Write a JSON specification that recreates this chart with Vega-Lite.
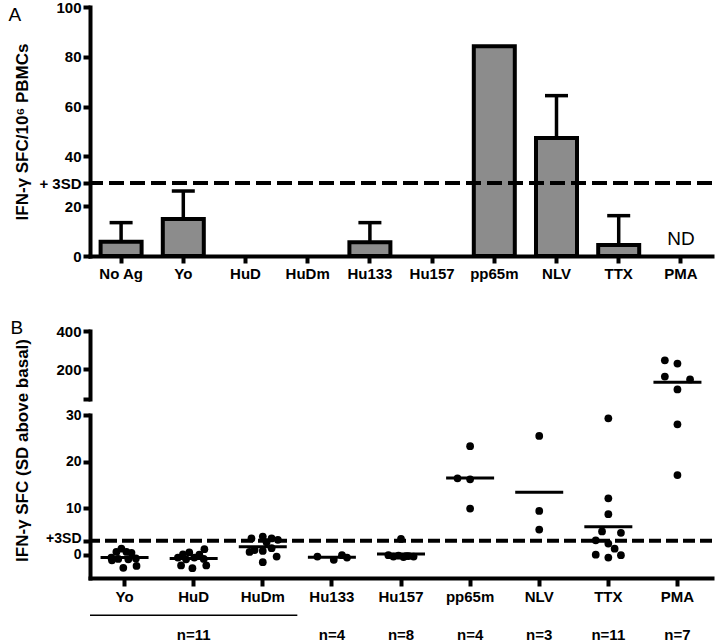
{
  "$schema": "https://vega.github.io/schema/vega-lite/v6.json",
  "padding": {"left": 8, "top": 0, "right": 5, "bottom": 0},
  "background": "white",
  "config": {
    "font": "Liberation Sans",
    "view": {"stroke": null},
    "axis": {
      "domain": true, "domainColor": "black", "domainWidth": 4, "domainOpacity": 1, "domainCap": "square", "tickColor": "black", "tickWidth": 4, "tickSize": 7,
      "labelFont": "Liberation Sans", "labelFontSize": 15, "labelFontWeight": "bold", "labelColor": "black",
      "titleFont": "Liberation Sans", "titleFontSize": 17, "titleFontWeight": "bold", "titleColor": "black",
      "grid": false, "labelOverlap": false, "labelBound": false, "labelFlush": false, "zindex": 1
    }
  },
  "datasets": {
    "panelA": [
      {"antigen": "No Ag", "mean": 5.7, "upper": 13.4, "note": null},
      {"antigen": "Yo", "mean": 14.9, "upper": 26.1, "note": null},
      {"antigen": "HuD", "mean": 0, "upper": null, "note": null},
      {"antigen": "HuDm", "mean": 0, "upper": null, "note": null},
      {"antigen": "Hu133", "mean": 5.5, "upper": 13.4, "note": null},
      {"antigen": "Hu157", "mean": 0, "upper": null, "note": null},
      {"antigen": "pp65m", "mean": 84.2, "upper": null, "note": null},
      {"antigen": "NLV", "mean": 47.4, "upper": 64.4, "note": null},
      {"antigen": "TTX", "mean": 4.4, "upper": 16.2, "note": null},
      {"antigen": "PMA", "mean": null, "upper": null, "note": "ND"}
    ],
    "panelB": [
      {"antigen": "Yo", "slot": -0.5, "sd": 1.3},
      {"antigen": "Yo", "slot": -1.3, "sd": 0.6},
      {"antigen": "Yo", "slot": 0.3, "sd": 0.6},
      {"antigen": "Yo", "slot": 1.1, "sd": 0.4},
      {"antigen": "Yo", "slot": -2.1, "sd": -0.6},
      {"antigen": "Yo", "slot": -1.0, "sd": -0.9},
      {"antigen": "Yo", "slot": 0.6, "sd": -1.0},
      {"antigen": "Yo", "slot": 1.8, "sd": -0.8},
      {"antigen": "Yo", "slot": -2.0, "sd": -1.2},
      {"antigen": "Yo", "slot": -0.2, "sd": -2.8},
      {"antigen": "Yo", "slot": 1.9, "sd": -2.4},
      {"antigen": "HuD", "slot": -2.5, "sd": -0.6},
      {"antigen": "HuD", "slot": -1.7, "sd": 0.1},
      {"antigen": "HuD", "slot": -0.7, "sd": 0.5},
      {"antigen": "HuD", "slot": 0.1, "sd": -0.6},
      {"antigen": "HuD", "slot": 0.9, "sd": 0.0},
      {"antigen": "HuD", "slot": 1.7, "sd": 1.2},
      {"antigen": "HuD", "slot": 1.6, "sd": -0.9},
      {"antigen": "HuD", "slot": -2.0, "sd": -2.3},
      {"antigen": "HuD", "slot": -0.2, "sd": -2.9},
      {"antigen": "HuD", "slot": 2.0, "sd": -2.3},
      {"antigen": "HuD", "slot": -1.2, "sd": -1.0},
      {"antigen": "HuDm", "slot": -1.8, "sd": 3.5},
      {"antigen": "HuDm", "slot": 0, "sd": 3.9},
      {"antigen": "HuDm", "slot": 1.4, "sd": 3.5},
      {"antigen": "HuDm", "slot": 2.4, "sd": 3.2},
      {"antigen": "HuDm", "slot": 0.6, "sd": 2.7},
      {"antigen": "HuDm", "slot": -2.1, "sd": 0.6},
      {"antigen": "HuDm", "slot": 0, "sd": 0.8},
      {"antigen": "HuDm", "slot": 1.4, "sd": 1.4},
      {"antigen": "HuDm", "slot": 2.2, "sd": -0.4},
      {"antigen": "HuDm", "slot": 0, "sd": -1.6},
      {"antigen": "HuDm", "slot": -1.3, "sd": 1.0},
      {"antigen": "Hu133", "slot": -2.3, "sd": -0.4},
      {"antigen": "Hu133", "slot": 0.3, "sd": -1.1},
      {"antigen": "Hu133", "slot": 1.6, "sd": -0.1},
      {"antigen": "Hu133", "slot": 2.4, "sd": -0.6},
      {"antigen": "Hu157", "slot": 0, "sd": 3.4},
      {"antigen": "Hu157", "slot": -2, "sd": -0.1},
      {"antigen": "Hu157", "slot": -1.2, "sd": -0.4},
      {"antigen": "Hu157", "slot": -0.4, "sd": -0.2},
      {"antigen": "Hu157", "slot": 0.4, "sd": -0.5},
      {"antigen": "Hu157", "slot": 1.2, "sd": -0.3},
      {"antigen": "Hu157", "slot": 2, "sd": -0.4},
      {"antigen": "Hu157", "slot": 0.8, "sd": -0.3},
      {"antigen": "pp65m", "slot": 0, "sd": 23.3},
      {"antigen": "pp65m", "slot": -2, "sd": 16.4},
      {"antigen": "pp65m", "slot": 0, "sd": 16.2},
      {"antigen": "pp65m", "slot": 0, "sd": 9.9},
      {"antigen": "NLV", "slot": 0, "sd": 25.5},
      {"antigen": "NLV", "slot": 0, "sd": 9.4},
      {"antigen": "NLV", "slot": 0, "sd": 5.4},
      {"antigen": "TTX", "slot": 0, "sd": 29.3},
      {"antigen": "TTX", "slot": 0, "sd": 12.1},
      {"antigen": "TTX", "slot": 0, "sd": 8.7},
      {"antigen": "TTX", "slot": -1, "sd": 5.0},
      {"antigen": "TTX", "slot": 2, "sd": 4.7},
      {"antigen": "TTX", "slot": -2, "sd": 3.1},
      {"antigen": "TTX", "slot": 0, "sd": 2.4},
      {"antigen": "TTX", "slot": 1, "sd": 1.3},
      {"antigen": "TTX", "slot": -2, "sd": 0.0},
      {"antigen": "TTX", "slot": 2, "sd": -0.1},
      {"antigen": "TTX", "slot": 0, "sd": -0.6},
      {"antigen": "PMA", "slot": -2, "sd": 247},
      {"antigen": "PMA", "slot": 0, "sd": 230},
      {"antigen": "PMA", "slot": -2, "sd": 162},
      {"antigen": "PMA", "slot": 2, "sd": 147},
      {"antigen": "PMA", "slot": 0, "sd": 95},
      {"antigen": "PMA", "slot": 0, "sd": 28},
      {"antigen": "PMA", "slot": 0, "sd": 17.1}
    ]
  },
  "spacing": 75,
  "bounds": "flush",
  "vconcat": [
    {
      "width": 622,
      "height": 249,
      "resolve": {"axis": {"x": "independent"}},
      "layer": [
        {
          "data": {"name": "panelA"},
          "transform": [{"filter": "datum.mean > 0"}],
          "mark": {"type": "bar", "fill": "#8c8c8c", "stroke": "black", "strokeWidth": 4, "width": 41},
          "encoding": {
            "x": {"field": "antigen", "type": "nominal",
              "scale": {"type": "band", "domain": ["No Ag", "Yo", "HuD", "HuDm", "Hu133", "Hu157", "pp65m", "NLV", "TTX", "PMA"], "paddingInner": 0.34, "paddingOuter": 0.17},
              "axis": {"title": null, "labelAngle": 0, "labelPadding": 3}},
            "y": {"field": "mean", "type": "quantitative", "scale": {"domain": [0, 100]},
              "axis": {"title": "IFN-γ SFC/10⁶ PBMCs", "values": [0, 20, 29.3, 40, 60, 80, 100], "tickCount": 20,
                "labelExpr": "datum.value == 29.3 ? '+ 3SD' : datum.label",
                "titleX": -68, "titleBaseline": "middle", "labelPadding": 2}}
          }
        },
        {
          "data": {"name": "panelA"},
          "transform": [{"filter": "datum.upper != null"}],
          "mark": {"type": "rule", "color": "black", "strokeWidth": 3.5},
          "encoding": {
            "x": {"field": "antigen", "type": "nominal", "axis": null},
            "y": {"field": "mean", "type": "quantitative"},
            "y2": {"field": "upper"}
          }
        },
        {
          "data": {"name": "panelA"},
          "transform": [{"filter": "datum.upper != null"}],
          "mark": {"type": "tick", "color": "black", "opacity": 1, "thickness": 3.5, "size": 23, "orient": "horizontal"},
          "encoding": {
            "x": {"field": "antigen", "type": "nominal", "axis": null},
            "y": {"field": "upper", "type": "quantitative"}
          }
        },
        {
          "data": {"values": [{"level": 29.3}]},
          "mark": {"type": "rule", "color": "black", "strokeWidth": 4, "strokeDash": [15, 6]},
          "encoding": {"y": {"field": "level", "type": "quantitative"}}
        },
        {
          "data": {"name": "panelA"},
          "transform": [{"filter": "datum.note != null"}],
          "mark": {"type": "text", "fontSize": 19, "fontWeight": "normal", "color": "black", "baseline": "alphabetic", "dy": -11},
          "encoding": {
            "x": {"field": "antigen", "type": "nominal",
              "axis": {"orient": "top", "title": "A", "labels": false, "ticks": false, "domain": false,
                "titleX": -82, "titleY": 13, "titleAngle": 0, "titleAlign": "left", "titleBaseline": "alphabetic",
                "titleFontSize": 19, "titleFontWeight": "normal", "titlePadding": 0}},
            "y": {"datum": 0},
            "text": {"field": "note"}
          }
        }
      ]
    },
    {
      "spacing": 16,
      "bounds": "flush",
      "vconcat": [
        {
          "width": 622,
          "height": 68,
          "layer": [
            {
              "data": {"name": "panelB"},
              "transform": [{"filter": "datum.sd > 30"}],
              "mark": {"type": "circle", "size": 60, "color": "black", "opacity": 1},
              "encoding": {
                "x": {"field": "antigen", "type": "nominal",
                  "scale": {"type": "band", "domain": ["Yo", "HuD", "HuDm", "Hu133", "Hu157", "pp65m", "NLV", "TTX", "PMA"], "paddingInner": 0, "paddingOuter": 0},
                  "axis": {"orient": "top", "title": "B", "labels": false, "ticks": false, "domain": false,
                    "titleX": -80, "titleY": 2, "titleAngle": 0, "titleAlign": "left", "titleBaseline": "alphabetic",
                    "titleFontSize": 19, "titleFontWeight": "normal", "titlePadding": 0}},
                "xOffset": {"field": "slot", "type": "quantitative", "scale": {"domain": [-2, 2], "range": [21.96, 47.16]}},
                "y": {"field": "sd", "type": "quantitative", "scale": {"domain": [45, 400], "nice": false, "zero": false},
                  "axis": {"title": null, "values": [45, 200, 400], "tickCount": 20, "labelOverlap": false,
                    "labelExpr": "datum.value == 200 ? '200' : datum.value == 400 ? '400' : ''", "labelPadding": 2}}
              }
            },
            {
              "data": {"name": "panelB"},
              "transform": [
                {"aggregate": [{"op": "mean", "field": "sd", "as": "avg"}], "groupby": ["antigen"]},
                {"filter": "datum.avg > 30"}
              ],
              "mark": {"type": "tick", "color": "black", "opacity": 1, "thickness": 3, "size": 48, "orient": "horizontal"},
              "encoding": {
                "x": {"field": "antigen", "type": "nominal"},
                "y": {"field": "avg", "type": "quantitative"}
              }
            }
          ]
        },
        {
          "width": 622,
          "height": 163,
          "layer": [
            {
              "data": {"name": "panelB"},
              "transform": [{"filter": "datum.sd <= 30"}],
              "mark": {"type": "circle", "size": 60, "color": "black", "opacity": 1},
              "encoding": {
                "x": {"field": "antigen", "type": "nominal",
                  "scale": {"type": "band", "domain": ["Yo", "HuD", "HuDm", "Hu133", "Hu157", "pp65m", "NLV", "TTX", "PMA"], "paddingInner": 0, "paddingOuter": 0},
                  "axis": {"title": null, "labelAngle": 0, "labelPadding": 3, "tickSize": 8, "labelLineHeight": 38,
                    "labelExpr": "datum.value == 'HuD' ? ['HuD', 'n=11'] : datum.value == 'Hu133' ? ['Hu133', 'n=4'] : datum.value == 'Hu157' ? ['Hu157', 'n=8'] : datum.value == 'pp65m' ? ['pp65m', 'n=4'] : datum.value == 'NLV' ? ['NLV', 'n=3'] : datum.value == 'TTX' ? ['TTX', 'n=11'] : datum.value == 'PMA' ? ['PMA', 'n=7'] : datum.label"}},
                "xOffset": {"field": "slot", "type": "quantitative", "scale": {"domain": [-2, 2], "range": [21.96, 47.16]}},
                "y": {"field": "sd", "type": "quantitative",
                  "scale": {"domain": [-5, 30]},
                  "axis": {"title": "IFN-γ SFC (SD above basal)", "values": [0, 3, 10, 20, 30], "tickCount": 20,
                    "labelExpr": "datum.value == 3 ? '+3SD' : datum.label", "labelFontSize": 14,
                    "labelOffset": {"condition": {"test": "datum.value == 3", "value": -2}, "value": 0},
                    "titleX": -68, "titleY": 35, "titleBaseline": "middle", "labelPadding": 2}}
              }
            },
            {
              "data": {"values": [{"level": 3}]},
              "mark": {"type": "rule", "color": "black", "strokeWidth": 4, "strokeDash": [12, 5]},
              "encoding": {"y": {"field": "level", "type": "quantitative"}}
            },
            {
              "data": {"name": "panelB"},
              "transform": [
                {"aggregate": [{"op": "mean", "field": "sd", "as": "avg"}], "groupby": ["antigen"]},
                {"filter": "datum.avg <= 30"}
              ],
              "mark": {"type": "tick", "color": "black", "opacity": 1, "thickness": 3, "size": 48, "orient": "horizontal"},
              "encoding": {
                "x": {"field": "antigen", "type": "nominal"},
                "y": {"field": "avg", "type": "quantitative"}
              }
            },
            {
              "data": {"values": [{"first": "Yo", "last": "HuDm"}]},
              "mark": {"type": "rule", "color": "black", "strokeWidth": 1.5},
              "encoding": {
                "x": {"field": "first", "type": "nominal", "bandPosition": 0},
                "x2": {"field": "last", "bandPosition": 1},
                "y": {"datum": -13}
              }
            }
          ]
        }
      ]
    }
  ]
}
